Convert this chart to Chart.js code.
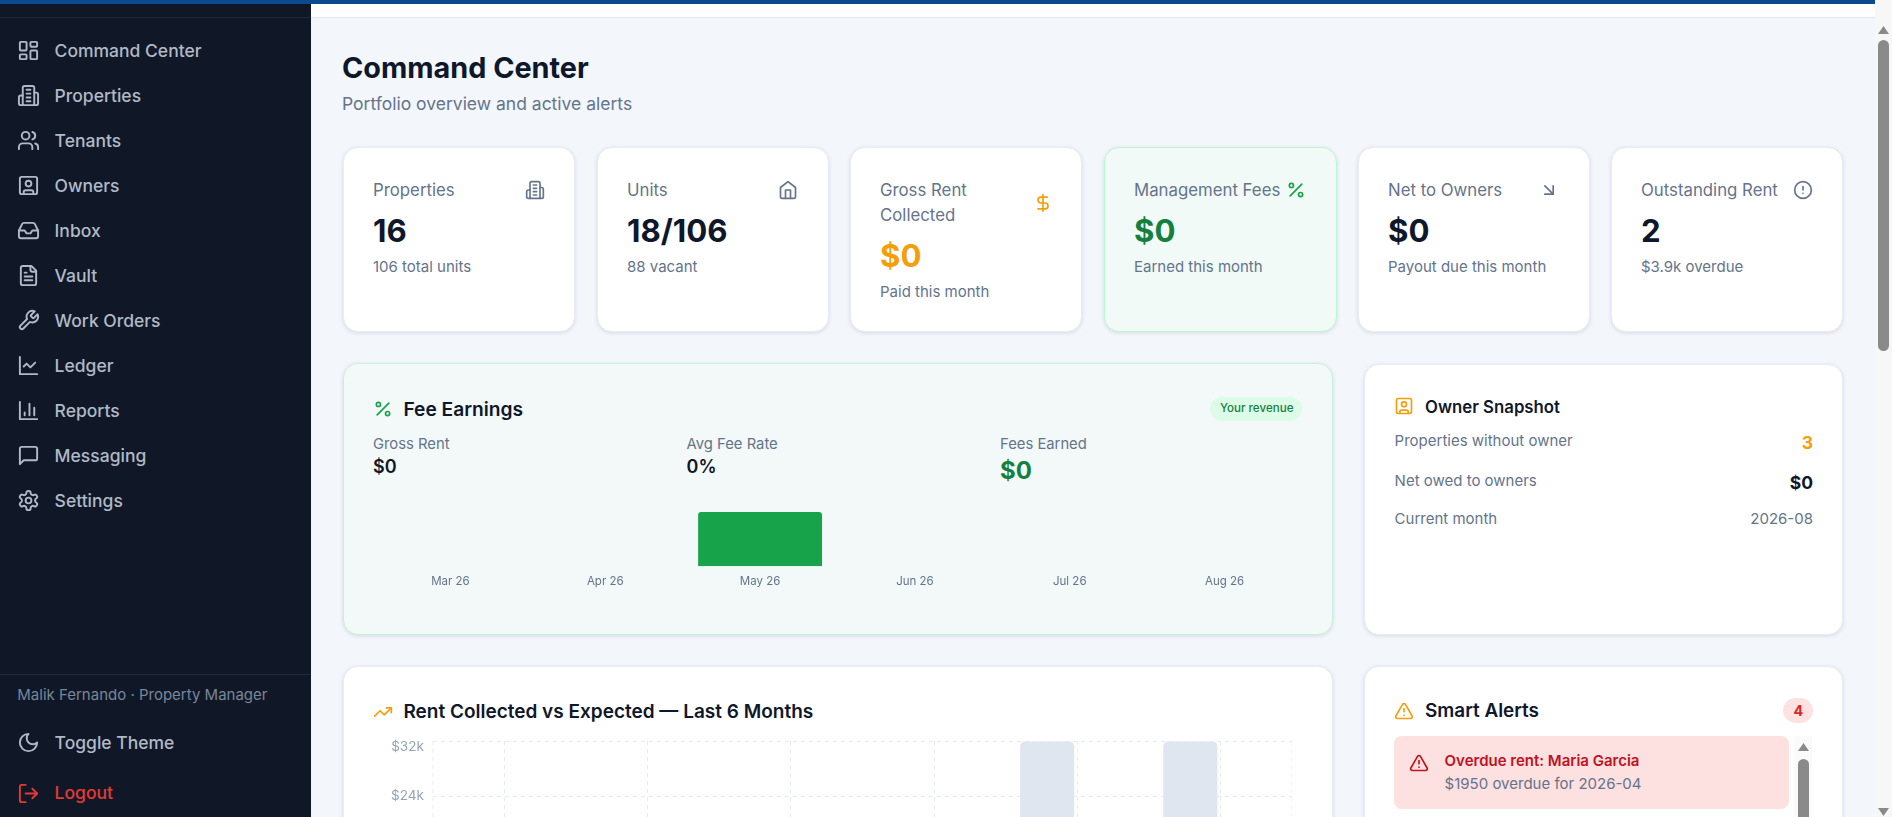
<!DOCTYPE html>
<html>
<head>
<meta charset="utf-8">
<title>Command Center</title>
<script src="https://cdn.jsdelivr.net/npm/chart.js@4"></script>
<style>
    html, body { margin: 0; width: 1892px; height: 817px; overflow: hidden; background: #f3f6fb; font-family: Inter, sans-serif; }
    #page { position: absolute; left: 0; top: 0; width: 1892px; height: 817px; overflow: hidden; }
    .box { position: absolute; box-sizing: border-box; }
    .txt { position: absolute; white-space: nowrap; transform: translateY(-50%); line-height: 1.2; }
    .ico { position: absolute; fill: none; stroke: currentColor; stroke-width: 2; stroke-linecap: round; stroke-linejoin: round; }
    .card { background: #fff; border: 1px solid #e8ecf3; border-radius: 15px; box-shadow: 0 1px 4px rgba(15, 23, 42, .12); }
    .green { background: #f1faf6; border-color: #bbf7d0; }
    .chart { position: absolute; }
</style>
</head>
<body>
<div id="page"></div>
<script>
/* -------- DATA START -------- */
const months = ["Mar 26", "Apr 26", "May 26", "Jun 26", "Jul 26", "Aug 26"];
const feeValues = [0, 0, 71, 0, 0, 0];
const rentExpected = [0, 0, 0, 0, 32000, 32000];
const rentCollected = [0, 0, 0, 0, 0, 0];
const rentTicks = [0, 8000, 16000, 24000, 32000];
/* -------- DATA END -------- */

/* -------- ICONS START -------- */
const ICONS = {
    dashboard: '<rect x="3" y="3" width="7" height="9" rx="1"/><rect x="14" y="3" width="7" height="5" rx="1"/><rect x="14" y="12" width="7" height="9" rx="1"/><rect x="3" y="16" width="7" height="5" rx="1"/>',
    building: '<path d="M6 22V4a2 2 0 0 1 2-2h8a2 2 0 0 1 2 2v18Z"/><path d="M6 12H4a2 2 0 0 0-2 2v6a2 2 0 0 0 2 2h2"/><path d="M18 9h2a2 2 0 0 1 2 2v9a2 2 0 0 1-2 2h-2"/><path d="M10 6h4M10 10h4M10 14h4M10 18h4"/>',
    users: '<path d="M16 21v-2a4 4 0 0 0-4-4H6a4 4 0 0 0-4 4v2"/><circle cx="9" cy="7" r="4"/><path d="M22 21v-2a4 4 0 0 0-3-3.87"/><path d="M16 3.13a4 4 0 0 1 0 7.75"/>',
    owner: '<rect x="3" y="3" width="18" height="18" rx="2"/><circle cx="12" cy="10" r="3"/><path d="M7 21v-2a2 2 0 0 1 2-2h6a2 2 0 0 1 2 2v2"/>',
    inbox: '<polyline points="22 12 16 12 14 15 10 15 8 12 2 12"/><path d="M5.45 5.11 2 12v6a2 2 0 0 0 2 2h16a2 2 0 0 0 2-2v-6l-3.45-6.89A2 2 0 0 0 16.76 4H7.24a2 2 0 0 0-1.79 1.11z"/>',
    file: '<path d="M15 2H6a2 2 0 0 0-2 2v16a2 2 0 0 0 2 2h12a2 2 0 0 0 2-2V7Z"/><path d="M14 2v4a2 2 0 0 0 2 2h4"/><path d="M10 9H8M16 13H8M16 17H8"/>',
    wrench: '<path d="M14.7 6.3a1 1 0 0 0 0 1.4l1.6 1.6a1 1 0 0 0 1.4 0l3.77-3.77a6 6 0 0 1-7.94 7.94l-6.91 6.91a2.12 2.12 0 0 1-3-3l6.91-6.91a6 6 0 0 1 7.94-7.94l-3.76 3.76z"/>',
    line: '<path d="M3 3v18h18"/><path d="m19 9-5 5-4-4-3 3"/>',
    bars: '<path d="M3 3v18h18"/><path d="M18 17V9M13 17V5M8 17v-3"/>',
    message: '<path d="M21 15a2 2 0 0 1-2 2H7l-4 4V5a2 2 0 0 1 2-2h14a2 2 0 0 1 2 2z"/>',
    settings: '<path d="M12.22 2h-.44a2 2 0 0 0-2 2v.18a2 2 0 0 1-1 1.73l-.43.25a2 2 0 0 1-2 0l-.15-.08a2 2 0 0 0-2.73.73l-.22.38a2 2 0 0 0 .73 2.73l.15.1a2 2 0 0 1 1 1.72v.51a2 2 0 0 1-1 1.74l-.15.09a2 2 0 0 0-.73 2.73l.22.38a2 2 0 0 0 2.73.73l.15-.08a2 2 0 0 1 2 0l.43.25a2 2 0 0 1 1 1.73V20a2 2 0 0 0 2 2h.44a2 2 0 0 0 2-2v-.18a2 2 0 0 1 1-1.73l.43-.25a2 2 0 0 1 2 0l.15.08a2 2 0 0 0 2.73-.73l.22-.39a2 2 0 0 0-.73-2.73l-.15-.08a2 2 0 0 1-1-1.74v-.5a2 2 0 0 1 1-1.74l.15-.09a2 2 0 0 0 .73-2.73l-.22-.38a2 2 0 0 0-2.73-.73l-.15.08a2 2 0 0 1-2 0l-.43-.25a2 2 0 0 1-1-1.73V4a2 2 0 0 0-2-2z"/><circle cx="12" cy="12" r="3"/>',
    moon: '<path d="M12 3a6 6 0 0 0 9 9 9 9 0 1 1-9-9Z"/>',
    logout: '<path d="M9 21H5a2 2 0 0 1-2-2V5a2 2 0 0 1 2-2h4"/><polyline points="16 17 21 12 16 7"/><line x1="21" y1="12" x2="9" y2="12"/>',
    home: '<path d="m3 9 9-7 9 7v11a2 2 0 0 1-2 2H5a2 2 0 0 1-2-2z"/><polyline points="9 22 9 12 15 12 15 22"/>',
    dollar: '<line x1="12" y1="2" x2="12" y2="22"/><path d="M17 5H9.5a3.5 3.5 0 0 0 0 7h5a3.5 3.5 0 0 1 0 7H6"/>',
    percent: '<line x1="19" y1="5" x2="5" y2="19"/><circle cx="6.5" cy="6.5" r="2.5"/><circle cx="17.5" cy="17.5" r="2.5"/>',
    arrowDown: '<line x1="7" y1="7" x2="17" y2="17"/><polyline points="17 7 17 17 7 17"/>',
    alertCircle: '<circle cx="12" cy="12" r="10"/><line x1="12" y1="8" x2="12" y2="12"/><line x1="12" y1="16" x2="12.01" y2="16"/>',
    trending: '<polyline points="22 7 13.5 15.5 8.5 10.5 2 17"/><polyline points="16 7 22 7 22 13"/>',
    triangle: '<path d="m21.73 18-8-14a2 2 0 0 0-3.48 0l-8 14A2 2 0 0 0 4 21h16a2 2 0 0 0 1.73-3Z"/><path d="M12 9v4M12 17h.01"/>'
};
/* -------- ICONS END -------- */

/* -------- HELPERS START -------- */
const page = document.querySelector("#page");

function box(x, y, w, h, css, cls) {
    const el = document.createElement("div");
    el.className = "box " + (cls || "");
    el.style.cssText = `left:${x}px;top:${y}px;width:${w}px;height:${h}px;${css || ""}`;
    page.appendChild(el);
    return el;
}

// x is the left edge (or right edge with align "r"), y is the vertical middle of the line
function text(x, y, str, size, weight, color, align) {
    const el = document.createElement("div");
    el.className = "txt";
    el.textContent = str;
    const pos = align === "r" ? `right:${1892 - x}px` : `left:${x}px`;
    el.style.cssText = `${pos};top:${y}px;font-size:${size}px;font-weight:${weight};color:${color}`;
    page.appendChild(el);
}

function icon(name, cx, cy, size, color) {
    const svg = document.createElementNS("http://www.w3.org/2000/svg", "svg");
    svg.setAttribute("viewBox", "0 0 24 24");
    svg.setAttribute("class", "ico");
    svg.style.cssText = `left:${cx - size / 2}px;top:${cy - size / 2}px;width:${size}px;height:${size}px;color:${color}`;
    svg.innerHTML = ICONS[name];
    page.appendChild(svg);
}
/* -------- HELPERS END -------- */

/* -------- LAYOUT START -------- */
const SLATE = "#64748b";
const INK = "#0f172a";
const AMBER = "#f59e0b";
const GREEN = "#15803d";
const NAVTEXT = "#b0b9c6";

// top strip and sidebar
box(311, 4, 1581, 14, "background:#fff;border-bottom:1px solid #e2e8f0");
box(0, 0, 311, 817, "background:#101828");
box(0, 17, 311, 1, "background:#1b2638");
box(0, 0, 1892, 4, "background:#0b4a8e");

const navItems = [
    ["dashboard", "Command Center"], ["building", "Properties"], ["users", "Tenants"],
    ["owner", "Owners"], ["inbox", "Inbox"], ["file", "Vault"], ["wrench", "Work Orders"],
    ["line", "Ledger"], ["bars", "Reports"], ["message", "Messaging"], ["settings", "Settings"]
];
navItems.forEach((item, i) => {
    const y = 50 + i * 45;
    icon(item[0], 28.3, y + 0.7, 23, NAVTEXT);
    text(54.6, y, item[1], 17.5, 500, NAVTEXT);
});
box(0, 674, 311, 1, "background:#1e2a3d");
text(17.3, 695, "Malik Fernando · Property Manager", 15, 400, "#7a8699");
icon("moon", 28.3, 742.7, 23, NAVTEXT);
text(54.6, 742, "Toggle Theme", 17.5, 500, NAVTEXT);
icon("logout", 28.3, 793, 23, "#e53935");
text(54.6, 792.3, "Logout", 17.5, 500, "#e53935");

// heading
text(342, 68, "Command Center", 28.8, 700, INK);
text(342, 103.4, "Portfolio overview and active alerts", 17.5, 400, SLATE);

// stat cards
const statCards = [
    { x: 342.5, w: 232, label: ["Properties"], value: "16", sub: "106 total units", ico: "building", icoX: 535, color: INK, icoColor: SLATE },
    { x: 596.5, w: 232, label: ["Units"], value: "18/106", sub: "88 vacant", ico: "home", icoX: 788, color: INK, icoColor: SLATE },
    { x: 849.5, w: 232, label: ["Gross Rent", "Collected"], value: "$0", sub: "Paid this month", ico: "dollar", icoX: 1043, color: AMBER, icoColor: AMBER },
    { x: 1103.5, w: 233, label: ["Management Fees"], value: "$0", sub: "Earned this month", ico: "percent", icoX: 1296, color: GREEN, icoColor: "#16a34a", green: true },
    { x: 1357.5, w: 232, label: ["Net to Owners"], value: "$0", sub: "Payout due this month", ico: "arrowDown", icoX: 1549, color: INK, icoColor: SLATE },
    { x: 1610.5, w: 232, label: ["Outstanding Rent"], value: "2", sub: "$3.9k overdue", ico: "alertCircle", icoX: 1803, color: INK, icoColor: SLATE }
];
statCards.forEach((c) => {
    box(c.x, 147, c.w, 185, "", "card" + (c.green ? " green" : ""));
    const tx = c.x + 30.5;
    const shift = (c.label.length - 1) * 25;
    c.label.forEach((line, i) => text(tx, 190 + i * 25, line, 16.8, 400, SLATE));
    text(tx, 232 + shift, c.value, 31.2, 700, c.color);
    text(tx, 266.7 + shift, c.sub, 15, 400, SLATE);
    icon(c.ico, c.icoX, 190 + shift / 2, 20, c.icoColor);
});

// fee earnings card
box(342.5, 363, 990, 272, "background:#f3f9f8;border-color:#c6f3d6", "card");
icon("percent", 383, 409, 20, "#16a34a");
text(403.4, 409.5, "Fee Earnings", 19.2, 600, INK);
box(1210, 397, 92, 24, "background:#dcfce7;border-radius:12px");
text(1220, 408.5, "Your revenue", 11.6, 500, GREEN);
text(373, 444.5, "Gross Rent", 14.8, 400, SLATE);
text(373, 467, "$0", 18, 600, INK);
text(686.6, 444.5, "Avg Fee Rate", 14.8, 400, SLATE);
text(686.6, 467, "0%", 18, 600, INK);
text(1000, 444.5, "Fees Earned", 14.8, 400, SLATE);
text(1000, 471, "$0", 24, 700, GREEN);

// owner snapshot card
box(1364, 364, 479, 271, "", "card");
icon("owner", 1404, 406, 20, AMBER);
text(1425, 406.7, "Owner Snapshot", 16.8, 600, INK);
text(1394.6, 440.7, "Properties without owner", 15, 400, SLATE);
text(1813, 441.5, "3", 17.5, 700, AMBER, "r");
text(1394.6, 480.7, "Net owed to owners", 15, 400, SLATE);
text(1813, 481.5, "$0", 17.5, 700, INK, "r");
text(1394.6, 518.7, "Current month", 15, 400, SLATE);
text(1813, 518.7, "2026-08", 15, 400, SLATE, "r");

// rent card
box(342.5, 666, 990, 260, "", "card");
icon("trending", 383, 711.7, 20, AMBER);
text(403.4, 711.7, "Rent Collected vs Expected — Last 6 Months", 19, 600, INK);

// smart alerts card
box(1364, 666, 479, 260, "", "card");
icon("triangle", 1404, 710.7, 20, AMBER);
text(1425, 711.3, "Smart Alerts", 18.9, 600, INK);
box(1783, 698, 30, 25, "background:#fee2e2;border-radius:13px");
text(1793.6, 710.5, "4", 14.4, 700, "#dc2626");
box(1394, 736, 395, 73, "background:#fde0e0;border-radius:8px");
icon("triangle", 1419, 763, 20, "#c1121f");
text(1444.6, 760.7, "Overdue rent: Maria Garcia", 15, 600, "#c1121f");
text(1444.6, 783.7, "$1950 overdue for 2026-04", 15, 400, SLATE);
box(1794, 736, 18, 81, "background:#fafafa");
box(1798, 759, 11, 70, "background:#8a8a8a;border-radius:6px");
box(1798, 743, 11, 8, "background:#8a8a8a;clip-path:polygon(50% 0,100% 100%,0 100%)");

// page scrollbar
box(1875, 0, 17, 817, "background:#f7f7f7");
box(1878, 40, 11, 311, "background:#8a8a8a;border-radius:6px");
box(1878, 26, 11, 8, "background:#8a8a8a;clip-path:polygon(50% 0,100% 100%,0 100%)");
box(1878, 808, 11, 8, "background:#8a8a8a;clip-path:polygon(0 0,100% 0,50% 100%)");
/* -------- LAYOUT END -------- */

/* -------- CHARTS START -------- */
function addCanvas(x, y, w, h) {
    const wrap = document.createElement("div");
    wrap.className = "chart";
    wrap.style.cssText = `left:${x}px;top:${y}px;width:${w}px;height:${h}px`;
    const canvas = document.createElement("canvas");
    wrap.appendChild(canvas);
    page.appendChild(wrap);
    return canvas;
}

Chart.defaults.font.family = "Inter, sans-serif";
Chart.defaults.animation = false;

new Chart(addCanvas(373, 490, 929, 98), {
    type: "bar",
    data: {
        labels: months,
        datasets: [{
            label: "Fees",
            data: feeValues,
            backgroundColor: "#16a34a",
            borderRadius: { topLeft: 3, topRight: 3 },
            categoryPercentage: 0.8,
            barPercentage: 1
        }]
    },
    options: {
        responsive: true,
        maintainAspectRatio: false,
        plugins: { legend: { display: false }, tooltip: { enabled: false } },
        layout: { padding: 0 },
        scales: {
            y: { display: false, min: 0, max: 100 },
            x: {
                grid: { display: false },
                border: { display: false },
                ticks: { color: "#64748b", font: { size: 11.5 }, padding: 0 }
            }
        }
    }
});

const GRID = "#e5e9f0";

// Chart.js does not dash the axis border, so the plot edges are stroked here
const dashedEdges = {
    id: "dashedEdges",
    beforeDatasetsDraw(chart) {
        const { ctx, chartArea } = chart;
        ctx.save();
        ctx.strokeStyle = GRID;
        ctx.setLineDash([4, 4]);
        ctx.beginPath();
        ctx.moveTo(chartArea.left, chartArea.top);
        ctx.lineTo(chartArea.left, chartArea.bottom);
        ctx.moveTo(chartArea.right, chartArea.top);
        ctx.lineTo(chartArea.right, chartArea.bottom);
        ctx.stroke();
        ctx.restore();
    }
};

new Chart(addCanvas(373, 720, 919, 273), {
    type: "bar",
    plugins: [dashedEdges],
    data: {
        labels: months,
        datasets: [
            { label: "Expected", data: rentExpected, backgroundColor: "#e0e6ef", borderRadius: { topLeft: 5, topRight: 5 }, categoryPercentage: 0.84, barPercentage: 0.9 },
            { label: "Collected", data: rentCollected, backgroundColor: "#16a34a", borderRadius: { topLeft: 5, topRight: 5 }, categoryPercentage: 0.84, barPercentage: 0.9 }
        ]
    },
    options: {
        responsive: true,
        maintainAspectRatio: false,
        plugins: { legend: { display: false }, tooltip: { enabled: false } },
        layout: { padding: 0 },
        scales: {
            y: {
                min: rentTicks[0],
                max: rentTicks[rentTicks.length - 1],
                afterBuildTicks: (scale) => { scale.ticks = rentTicks.map((v) => ({ value: v })); },
                afterFit: (scale) => { scale.width = 60; },
                grid: { color: GRID, tickLength: 0 },
                border: { display: false, dash: [4, 4] },
                ticks: {
                    color: "#94a3b8",
                    font: { size: 13.6, lineHeight: 0.9 },
                    padding: 9,
                    // the top label sits just under its grid line, a blank first line pushes it down
                    callback: (v) => v === 32000 ? ["", "$32k"] : "$" + v / 1000 + "k"
                }
            },
            x: {
                grid: { color: GRID, offset: false, tickLength: 0 },
                border: { display: false, dash: [4, 4] },
                ticks: { color: "#94a3b8", font: { size: 13.2 }, padding: 8 }
            }
        }
    }
});
/* -------- CHARTS END -------- */
</script>
</body>
</html>
